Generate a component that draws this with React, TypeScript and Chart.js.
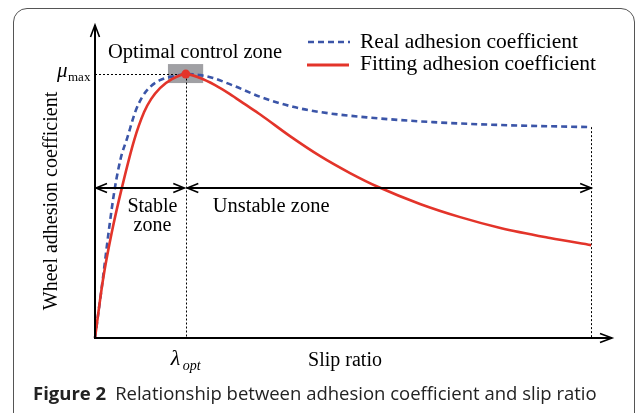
import React, { useEffect, useRef } from "react";
import { Chart, registerables } from "chart.js";
Chart.register(...registerables);

// Fitting adhesion coefficient (red, solid)
const slipFit = [0, 0.016, 0.034, 0.054, 0.079, 0.099, 0.113, 0.131, 0.155, 0.183, 0.212, 0.242, 0.272, 0.302, 0.333, 0.393, 0.454, 0.514, 0.571, 0.655, 0.736, 0.817, 0.917, 1.0];
const adhesionFit = [0, 0.22, 0.402, 0.568, 0.75, 0.856, 0.905, 0.947, 0.981, 1.0, 0.985, 0.958, 0.924, 0.886, 0.847, 0.765, 0.689, 0.625, 0.572, 0.508, 0.458, 0.417, 0.379, 0.352];

// Real adhesion coefficient (blue, dashed)
const slipReal = [0, 0.016, 0.028, 0.04, 0.052, 0.065, 0.081, 0.095, 0.111, 0.131, 0.159, 0.183, 0.212, 0.238, 0.278, 0.333, 0.399, 0.454, 0.548, 0.681, 0.817, 1.0];
const adhesionReal = [0, 0.227, 0.409, 0.568, 0.682, 0.758, 0.856, 0.913, 0.951, 0.977, 0.992, 1.0, 0.996, 0.985, 0.957, 0.914, 0.876, 0.856, 0.836, 0.818, 0.807, 0.799];

const lambdaOpt = 0.183;
const muMax = 1.0;
const slipEnd = 1.0;
const zoneArrowLevel = 0.568;
const xAxisMax = 1.042;
const yAxisMax = 1.186;

const seriesLabels = ["Real adhesion coefficient", "Fitting adhesion coefficient"];
const axisTitles = ["Slip ratio", "Wheel adhesion coefficient"];
const zoneLabels = ["Optimal control zone", "Stable", "zone", "Unstable zone"];
const captionBold = "Figure 2";
const captionText = "Relationship between adhesion coefficient and slip ratio";

const RED = "#e3342a";
const BLUE = "#3b55a8";
const SERIF = '"Liberation Serif", "Times New Roman", serif';

function arrowHead(ctx: CanvasRenderingContext2D, tx: number, ty: number, dx: number, dy: number, len = 11, half = 4.5) {
  const px = -dy, py = dx;
  ctx.beginPath();
  ctx.moveTo(tx - dx * len + px * half, ty - dy * len + py * half);
  ctx.lineTo(tx, ty);
  ctx.lineTo(tx - dx * len - px * half, ty - dy * len - py * half);
  ctx.stroke();
}

const annotations = {
  id: "annotations",
  beforeDatasetsDraw(chart: any) {
    const { ctx } = chart;
    const x = chart.scales.x;
    const y = chart.scales.y;
    ctx.save();
    ctx.fillStyle = "rgb(160,160,164)";
    const bx0 = x.getPixelForValue(lambdaOpt - 0.036);
    const bx1 = x.getPixelForValue(lambdaOpt + 0.035);
    const by0 = y.getPixelForValue(muMax + 0.038);
    const by1 = y.getPixelForValue(muMax - 0.034);
    ctx.fillRect(bx0, by0, bx1 - bx0, by1 - by0);

    ctx.setLineDash([2, 2]);
    ctx.strokeStyle = "#000";
    ctx.lineWidth = 1;
    const px0 = x.getPixelForValue(0);
    const py0 = y.getPixelForValue(0);
    const pl = Math.round(x.getPixelForValue(lambdaOpt)) + 0.5;
    const pm = Math.round(y.getPixelForValue(muMax)) + 0.5;
    const pe = Math.round(x.getPixelForValue(slipEnd)) + 0.5;
    const pr = y.getPixelForValue(adhesionReal[adhesionReal.length - 1]);
    ctx.beginPath();
    ctx.moveTo(px0, pm); ctx.lineTo(pl, pm);
    ctx.moveTo(pl, pm); ctx.lineTo(pl, py0);
    ctx.moveTo(pe, pr); ctx.lineTo(pe, py0);
    ctx.stroke();
    ctx.restore();
  },
  afterDatasetsDraw(chart: any) {
    const { ctx } = chart;
    const x = chart.scales.x;
    const y = chart.scales.y;
    const px0 = x.getPixelForValue(0);
    const py0 = y.getPixelForValue(0);
    const pxMax = x.getPixelForValue(xAxisMax);
    const pyMax = y.getPixelForValue(yAxisMax);
    const pl = x.getPixelForValue(lambdaOpt);
    const pm = y.getPixelForValue(muMax);
    const pe = x.getPixelForValue(slipEnd);
    const pz = Math.round(y.getPixelForValue(zoneArrowLevel));

    ctx.save();
    ctx.strokeStyle = "#000";
    ctx.lineWidth = 2;
    ctx.lineCap = "butt";
    ctx.beginPath();
    ctx.moveTo(px0, py0 + 1); ctx.lineTo(px0, pyMax);
    ctx.moveTo(px0 - 1, py0); ctx.lineTo(pxMax, py0);
    ctx.stroke();
    ctx.lineWidth = 1.6;
    arrowHead(ctx, px0, pyMax, 0, -1, 12, 4.5);
    arrowHead(ctx, pxMax, py0, 1, 0, 12, 4.5);

    ctx.lineWidth = 2;
    ctx.beginPath();
    ctx.moveTo(px0 + 1, pz); ctx.lineTo(pl - 1.5, pz);
    ctx.moveTo(pl + 1.5, pz); ctx.lineTo(pe, pz);
    ctx.stroke();
    ctx.lineWidth = 1.6;
    arrowHead(ctx, px0 + 1, pz, -1, 0, 11, 4.5);
    arrowHead(ctx, pl - 1.5, pz, 1, 0, 11, 4.5);
    arrowHead(ctx, pl + 1.5, pz, -1, 0, 11, 4.5);
    arrowHead(ctx, pe, pz, 1, 0, 11, 4.5);

    ctx.fillStyle = "#000";
    ctx.textBaseline = "alphabetic";
    ctx.font = `20.5px ${SERIF}`;
    ctx.textAlign = "left";
    ctx.fillText(zoneLabels[0], px0 + 13, pyMax + 33);
    ctx.font = `20px ${SERIF}`;
    ctx.textAlign = "center";
    ctx.fillText(zoneLabels[1], (px0 + pl) / 2 + 12, pz + 24);
    ctx.fillText(zoneLabels[2], (px0 + pl) / 2 + 12, pz + 43);
    ctx.textAlign = "left";
    ctx.font = `20.5px ${SERIF}`;
    ctx.fillText(zoneLabels[3], pl + 27, pz + 24);

    ctx.font = `20px ${SERIF}`;
    ctx.textAlign = "center";
    ctx.fillText(axisTitles[0], 345, py0 + 28);
    ctx.font = `italic 22px ${SERIF}`;
    ctx.textAlign = "left";
    ctx.fillText("\u03bb", pl - 15, py0 + 27);
    ctx.font = `italic 14px ${SERIF}`;
    ctx.fillText("opt", pl - 3, py0 + 32);

    ctx.font = `italic 21px ${SERIF}`;
    ctx.fillText("\u03bc", px0 - 38, pm + 3);
    ctx.font = `13px ${SERIF}`;
    ctx.fillText("max", px0 - 27, pm + 7);

    ctx.save();
    ctx.translate(57, 201);
    ctx.rotate(-Math.PI / 2);
    ctx.font = `20px ${SERIF}`;
    ctx.textAlign = "center";
    ctx.fillText(axisTitles[1], 0, 0);
    ctx.restore();

    ctx.lineWidth = 2.5;
    ctx.strokeStyle = BLUE;
    ctx.setLineDash([6, 4]);
    ctx.beginPath(); ctx.moveTo(308, 42); ctx.lineTo(350, 42); ctx.stroke();
    ctx.setLineDash([]);
    ctx.strokeStyle = RED;
    ctx.lineWidth = 3;
    ctx.beginPath(); ctx.moveTo(307, 65); ctx.lineTo(349, 65); ctx.stroke();
    ctx.font = `21.5px ${SERIF}`;
    ctx.textAlign = "left";
    ctx.fillText(seriesLabels[0], 360, 48);
    ctx.fillText(seriesLabels[1], 360, 70);
    ctx.restore();
  },
};

export default function App() {
  const canvasRef = useRef<HTMLCanvasElement | null>(null);
  useEffect(() => {
    const canvas = canvasRef.current;
    if (!canvas) return;
    const chart = new Chart(canvas, {
      type: "line",
      data: {
        datasets: [
          {
            label: "optimum",
            data: [{ x: lambdaOpt, y: muMax }],
            showLine: false,
            pointRadius: 4.5,
            pointBackgroundColor: RED,
            pointBorderWidth: 0,
            clip: false,
          } as any,
          {
            label: seriesLabels[1],
            data: slipFit.map((s, i) => ({ x: s, y: adhesionFit[i] })),
            borderColor: RED,
            borderWidth: 2.6,
            pointRadius: 0,
            cubicInterpolationMode: "monotone",
            fill: false,
            clip: false,
          } as any,
          {
            label: seriesLabels[0],
            data: slipReal.map((s, i) => ({ x: s, y: adhesionReal[i] })),
            borderColor: BLUE,
            borderWidth: 2.6,
            borderDash: [6, 4],
            pointRadius: 0,
            cubicInterpolationMode: "monotone",
            fill: false,
            clip: false,
          } as any,
        ],
      },
      options: {
        responsive: false,
        animation: false,
        devicePixelRatio: 1,
        layout: { padding: { left: 95, right: 25, top: 25, bottom: 75 } },
        scales: {
          x: { type: "linear", min: 0, max: xAxisMax, display: false },
          y: { type: "linear", min: 0, max: yAxisMax, display: false },
        },
        plugins: { legend: { display: false }, tooltip: { enabled: false } },
      },
      plugins: [annotations],
    });
    return () => chart.destroy();
  }, []);

  return (
    <div style={{ position: "absolute", left: 0, top: 0, width: 637, height: 413, overflow: "hidden", background: "#fff" }}>
      <div
        style={{
          position: "absolute",
          left: 13,
          top: 8,
          width: 622,
          height: 420,
          border: "1px solid #555",
          borderRadius: 14,
          boxSizing: "border-box",
        }}
      />
      <canvas ref={canvasRef} width={637} height={413} style={{ position: "absolute", left: 0, top: 0, width: 637, height: 413 }} />
      <div
        style={{
          position: "absolute",
          left: 33,
          top: 381,
          whiteSpace: "nowrap",
          fontFamily: '"Open Sans", "Noto Sans", sans-serif',
          fontSize: 18.5,
          lineHeight: "24px",
          color: "#222",
        }}
      >
        <span style={{ fontWeight: 700 }}>{captionBold}</span>
        <span style={{ marginLeft: 9 }}>{captionText}</span>
      </div>
    </div>
  );
}
